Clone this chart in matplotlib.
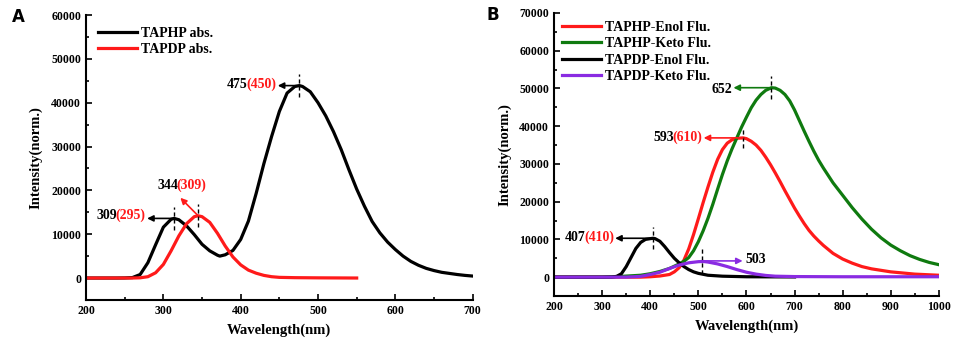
import numpy as np
import matplotlib.pyplot as plt
from matplotlib.ticker import MultipleLocator

plt.rcParams['font.family'] = ['Liberation Serif', 'DejaVu Serif']
plt.rcParams['font.weight'] = 'bold'

# ---- panel A : absorption ----
wl_taphp_abs = [200, 220, 240, 250, 260, 270, 280, 290, 300, 310, 314, 320, 330, 340, 350,
                360, 370, 373, 380, 390, 400, 410, 420, 430, 440, 450, 460, 470, 476,
                480, 490, 500, 510, 520, 530, 540, 550, 560, 570, 580, 590, 600, 610,
                620, 630, 640, 650, 660, 670, 680, 690, 700]
taphp_abs = [0, 0, 0, 20, 100, 800, 3500, 7600, 11600, 13400, 13600, 13300, 11900, 9900,
             7700, 6200, 5200, 5000, 5300, 6300, 8800, 13000, 19300, 26100, 32300, 38000,
             42200, 43700, 43900, 43700, 42500, 40000, 37000, 33400, 29300, 24700, 20300,
             16400, 12900, 10300, 8200, 6500, 5000, 3800, 2900, 2200, 1700, 1300, 1050,
             800, 600, 450]
wl_tapdp_abs = [200, 240, 260, 270, 280, 290, 300, 310, 320, 330, 340, 345, 350, 360, 370,
                380, 390, 400, 410, 420, 430, 440, 450, 470, 500, 550]
tapdp_abs = [0, 0, 0, 50, 300, 1200, 3100, 6200, 9600, 12400, 14000, 14200, 14000, 12700,
             10200, 7300, 4800, 3000, 1800, 1100, 600, 300, 150, 80, 40, 0]

# ---- panel B : fluorescence ----
wl_enol = [200, 300, 380, 400, 420, 440, 450, 460, 470, 480, 490, 500, 510, 520, 530, 540,
           550, 560, 570, 580, 593, 600, 610, 620, 630, 640, 650, 660, 670, 680, 690, 700,
           710, 720, 730, 740, 750, 760, 780, 800, 820, 840, 860, 880, 900, 950, 1000]
taphp_enol = [0, 0, 0, 100, 300, 700, 1400, 2500, 4500, 7500, 11300, 15500, 19800, 23900,
              27800, 31200, 33800, 35500, 36400, 36800, 36900, 36700, 36000, 35000, 33600,
              31800, 29800, 27600, 25300, 22900, 20600, 18300, 16200, 14200, 12400, 10900,
              9600, 8400, 6300, 4800, 3700, 2800, 2200, 1800, 1400, 800, 500]
wl_keto = [200, 300, 340, 380, 400, 420, 440, 450, 460, 470, 480, 490, 500, 510, 520, 530,
           540, 550, 560, 570, 580, 590, 600, 610, 620, 630, 640, 652, 660, 670, 680, 690,
           700, 710, 720, 730, 740, 750, 760, 780, 800, 820, 840, 860, 880, 900, 920, 940,
           960, 980, 1000]
taphp_keto = [0, 0, 200, 500, 900, 1500, 2300, 2900, 3500, 4200, 5200, 7000, 9400, 12300,
              15600, 19300, 23300, 27200, 30800, 34000, 36900, 39800, 42400, 44900, 46900,
              48400, 49500, 50200, 50100, 49500, 48400, 46700, 44300, 41500, 38700, 36000,
              33400, 31000, 28900, 25000, 21700, 18400, 15400, 12700, 10400, 8500, 7000,
              5700, 4700, 3900, 3300]
wl_tapdp_enol = [200, 300, 320, 330, 340, 350, 360, 370, 380, 390, 400, 406, 410, 420, 430,
                 440, 450, 460, 470, 480, 490, 500, 520, 550, 600, 700]
tapdp_enol = [0, 0, 30, 200, 900, 2800, 5200, 7600, 9200, 10000, 10200, 10300, 10200, 9500,
              8100, 6500, 5000, 3800, 2800, 2000, 1400, 1000, 500, 250, 100, 50]
wl_tapdp_keto = [200, 350, 380, 400, 420, 440, 460, 480, 500, 510, 520, 540, 560, 580, 600,
                 620, 640, 660, 700, 800, 900, 1000]
tapdp_keto = [0, 0, 200, 700, 1300, 2300, 3200, 3800, 4100, 4150, 4000, 3500, 2800, 2000,
              1300, 800, 450, 250, 150, 100, 100, 100]

RED = '#ff1a1a'
GREEN = '#0f7a0f'
PURPLE = '#8a2be2'
LW = 2.3
FS = 10

fig = plt.figure(figsize=(9.57, 3.42), dpi=100)
axA = fig.add_axes([0.0899, 0.123, 0.404, 0.833])
axB = fig.add_axes([0.579, 0.1345, 0.402, 0.8275])


def style_axis(ax, xmaj, xmin, ymaj, ymin):
    for s in ['top', 'right']:
        ax.spines[s].set_visible(False)
    for s in ['left', 'bottom']:
        ax.spines[s].set_linewidth(1.5)
    ax.xaxis.set_major_locator(MultipleLocator(xmaj))
    ax.xaxis.set_minor_locator(MultipleLocator(xmin))
    ax.yaxis.set_major_locator(MultipleLocator(ymaj))
    ax.yaxis.set_minor_locator(MultipleLocator(ymin))
    ax.tick_params(which='both', direction='in', width=1.2, labelsize=8.5)
    ax.tick_params(which='major', length=4)
    ax.tick_params(which='minor', length=2.5)
    ax.set_xlabel('Wavelength(nm)', fontsize=10.5, fontweight='bold', labelpad=5)
    ax.set_ylabel('Intensity(norm.)', fontsize=10.5, fontweight='bold', labelpad=6)


def peak_mark(ax, x, y, dy):
    ax.plot([x, x], [y - dy, y + dy], ls='--', color='black', lw=1.0, dashes=(3, 2))


def arrow(ax, x0, y0, x1, y1, color):
    ax.annotate('', xy=(x1, y1), xytext=(x0, y0),
                arrowprops=dict(arrowstyle='-|>', color=color, lw=1.2,
                                mutation_scale=9, shrinkA=0, shrinkB=0))


def two_color_label(ax, x, y, black, red, ha='right'):
    # "black(red)" label; (x, y) is right edge (ha='right') or left edge
    fig.canvas.draw()
    r = fig.canvas.get_renderer()
    if ha == 'right':
        t2 = ax.text(x, y, red, color=RED, fontsize=FS, fontweight='bold', ha='right', va='center')
        bb = t2.get_window_extent(r)
        xl = ax.transData.inverted().transform((bb.x0 + 1.5, bb.y0))[0]
        ax.text(xl, y, black, color='black', fontsize=FS, fontweight='bold', ha='right', va='center')
    else:
        t1 = ax.text(x, y, black, color='black', fontsize=FS, fontweight='bold', ha='left', va='center')
        bb = t1.get_window_extent(r)
        xr = ax.transData.inverted().transform((bb.x1 - 1.5, bb.y0))[0]
        ax.text(xr, y, red, color=RED, fontsize=FS, fontweight='bold', ha='left', va='center')


# ---- panel A ----
axA.plot(wl_taphp_abs, taphp_abs, color='black', lw=LW, label='TAPHP abs.')
axA.plot(wl_tapdp_abs, tapdp_abs, color=RED, lw=LW, label='TAPDP abs.')
axA.set_xlim(200, 700)
axA.set_ylim(-5000, 60000)
style_axis(axA, 100, 50, 10000, 5000)
axA.legend(loc='upper left', frameon=False, handlelength=2.8,
           handletextpad=0.3, labelspacing=0.25, borderaxespad=0.45,
           prop={'weight': 'bold', 'size': 10})

peak_mark(axA, 476, 43900, 2700)
arrow(axA, 476, 43900, 448, 43900, 'black')
two_color_label(axA, 446, 44200, '475', '(450)')

peak_mark(axA, 314, 13600, 2600)
arrow(axA, 314, 13600, 279, 13600, 'black')
two_color_label(axA, 277, 14300, '309', '(295)')

peak_mark(axA, 345, 14200, 2600)
arrow(axA, 345, 14200, 322, 18300, RED)
two_color_label(axA, 292, 21200, '344', '(309)', ha='left')

fig.text(0.012, 0.95, 'A', fontsize=12, fontweight='bold', family='DejaVu Sans', va='center')

# ---- panel B ----
axB.plot(wl_enol, taphp_enol, color=RED, lw=LW, label='TAPHP-Enol Flu.')
axB.plot(wl_keto, taphp_keto, color=GREEN, lw=LW, label='TAPHP-Keto Flu.')
axB.plot(wl_tapdp_enol, tapdp_enol, color='black', lw=LW, label='TAPDP-Enol Flu.')
axB.plot(wl_tapdp_keto, tapdp_keto, color=PURPLE, lw=LW, label='TAPDP-Keto Flu.')
axB.set_xlim(200, 1000)
axB.set_ylim(-5000, 70000)
style_axis(axB, 100, 50, 10000, 5000)
axB.legend(loc='upper left', frameon=False, handlelength=2.8,
           handletextpad=0.3, labelspacing=0.25, borderaxespad=0.15,
           prop={'weight': 'bold', 'size': 10})

peak_mark(axB, 652, 50200, 3000)
arrow(axB, 652, 50200, 573, 50200, GREEN)
axB.text(571, 49700, '652', fontsize=FS, fontweight='bold', ha='right', va='center')

peak_mark(axB, 593, 36900, 2600)
arrow(axB, 593, 36900, 511, 36900, RED)
two_color_label(axB, 509, 37100, '593', '(610)')

peak_mark(axB, 406, 10300, 2900)
arrow(axB, 406, 10300, 327, 10300, 'black')
two_color_label(axB, 325, 10600, '407', '(410)')

peak_mark(axB, 507, 4200, 3300)
arrow(axB, 507, 4300, 592, 4300, PURPLE)
axB.text(598, 4600, '503', fontsize=FS, fontweight='bold', ha='left', va='center')

fig.text(0.508, 0.955, 'B', fontsize=12, fontweight='bold', family='DejaVu Sans', va='center')

fig.savefig('out.png', dpi=100)
